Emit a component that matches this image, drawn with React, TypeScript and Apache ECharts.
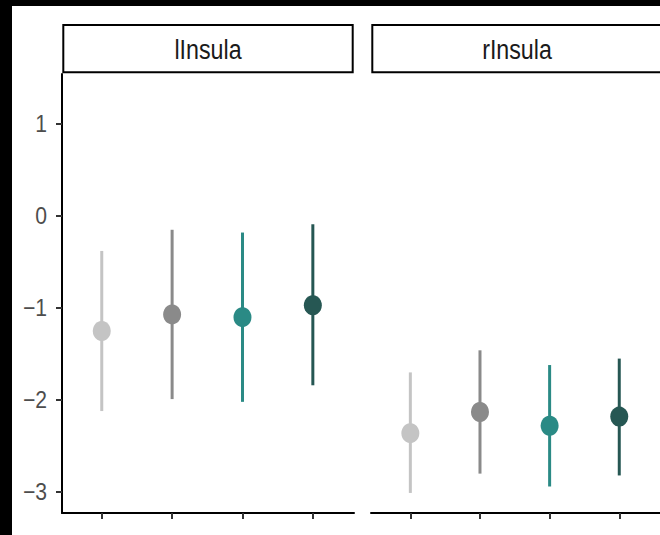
import React, { useEffect, useRef } from "react";
import * as echarts from "echarts";

const panelNames = ["lInsula", "rInsula"];
const groupPositions = [1, 2, 3, 4];
const groupColors = ["#c4c4c4", "#8a8a8a", "#2a8a85", "#265753"];

const lInsulaMean = [-1.25, -1.07, -1.1, -0.97];
const lInsulaLow = [-2.12, -1.99, -2.02, -1.84];
const lInsulaHigh = [-0.38, -0.15, -0.18, -0.09];

const rInsulaMean = [-2.36, -2.13, -2.28, -2.18];
const rInsulaLow = [-3.01, -2.8, -2.94, -2.82];
const rInsulaHigh = [-1.7, -1.46, -1.62, -1.55];

const yTicks = [-3, -2, -1, 0, 1];
const yTickLabels = ["\u22123", "\u22122", "\u22121", "0", "1"];

const FONT = "'Liberation Sans', Arial, Helvetica, sans-serif";

export default function App() {
  const ref = useRef<HTMLDivElement>(null);

  useEffect(() => {
    if (!ref.current) return;
    const chart = echarts.init(ref.current, null, { renderer: "svg" });

    const panelData = [
      { mean: lInsulaMean, low: lInsulaLow, high: lInsulaHigh },
      { mean: rInsulaMean, low: rInsulaLow, high: rInsulaHigh },
    ];

    const gridLefts = [62, 371];
    const gridWidth = 292;
    const gridTop = 74;
    const gridHeight = 439;

    const grids = gridLefts.map((l) => ({
      left: l,
      top: gridTop,
      width: gridWidth,
      height: gridHeight,
      containLabel: false,
    }));

    const xAxes = gridLefts.map((_, i) => ({
      type: "value",
      gridIndex: i,
      min: 0.435,
      max: 4.585,
      splitLine: { show: false },
      axisLine: { show: true, onZero: false, lineStyle: { color: "#000", width: 2 } },
      axisTick: {
        show: true,
        customValues: groupPositions,
        length: 6,
        lineStyle: { color: "#333", width: 2 },
      },
      axisLabel: { show: false },
    }));

    const yAxes = gridLefts.map((_, i) => ({
      type: "value",
      gridIndex: i,
      min: -3.228,
      max: 1.543,
      splitLine: { show: false },
      axisLine: { show: i === 0, onZero: false, lineStyle: { color: "#000", width: 2 } },
      axisTick: {
        show: i === 0,
        customValues: yTicks,
        length: 6,
        lineStyle: { color: "#333", width: 2 },
      },
      axisLabel: { show: false },
    }));

    const series: any[] = [];
    panelData.forEach((p, i) => {
      series.push({
        type: "custom",
        xAxisIndex: i,
        yAxisIndex: i,
        z: 2,
        encode: { x: 0, y: [1, 2] },
        data: groupPositions.map((x, k) => [x, p.low[k], p.high[k]]),
        renderItem: (params: any, api: any) => {
          const x = api.value(0);
          const lo = api.coord([x, api.value(1)]);
          const hi = api.coord([x, api.value(2)]);
          return {
            type: "line",
            shape: { x1: lo[0], y1: lo[1], x2: hi[0], y2: hi[1] },
            style: { stroke: groupColors[params.dataIndex], lineWidth: 3 },
          };
        },
      });
      series.push({
        type: "scatter",
        xAxisIndex: i,
        yAxisIndex: i,
        z: 3,
        symbol: "circle",
        symbolSize: [18, 20],
        itemStyle: { opacity: 1 },
        data: groupPositions.map((x, k) => ({
          value: [x, p.mean[k]],
          itemStyle: { color: groupColors[k], opacity: 1 },
        })),
      });
    });

    const graphics: any[] = [
      { type: "rect", shape: { x: 0, y: 0, width: 660, height: 6 }, style: { fill: "#000" }, z: 10 },
      { type: "rect", shape: { x: 0, y: 0, width: 12, height: 535 }, style: { fill: "#000" }, z: 10 },
    ];
    gridLefts.forEach((l, i) => {
      graphics.push({
        type: "rect",
        shape: { x: l + 1.3, y: 25, width: gridWidth - 2.6, height: 47.3 },
        style: { fill: "#fff", stroke: "#000", lineWidth: 2 },
        z: 5,
      });
      graphics.push({
        type: "text",
        x: l + gridWidth / 2,
        y: 49.5,
        scaleX: 0.83,
        style: {
          text: panelNames[i],
          fontSize: 28,
          fontFamily: FONT,
          fill: "#1a1a1a",
          align: "center",
          verticalAlign: "middle",
        },
        z: 6,
      });
    });

    chart.setOption({
      animation: false,
      backgroundColor: "#fff",
      grid: grids,
      xAxis: xAxes,
      yAxis: yAxes,
      series,
      graphic: graphics,
    });

    // y tick labels placed through the axis scale
    yTicks.forEach((v, k) => {
      const py = chart.convertToPixel({ yAxisIndex: 0 }, v) as number;
      graphics.push({
        type: "text",
        x: 47,
        y: py + 0.5,
        scaleX: 0.88,
        style: {
          text: yTickLabels[k],
          fontSize: 24,
          fontFamily: FONT,
          fill: "#4d4d4d",
          align: "right",
          verticalAlign: "middle",
        },
        z: 6,
      });
    });
    chart.setOption({ graphic: graphics });

    return () => chart.dispose();
  }, []);

  return (
    <div
      ref={ref}
      style={{ position: "fixed", left: 0, top: 0, width: 660, height: 535, background: "#fff" }}
    />
  );
}
